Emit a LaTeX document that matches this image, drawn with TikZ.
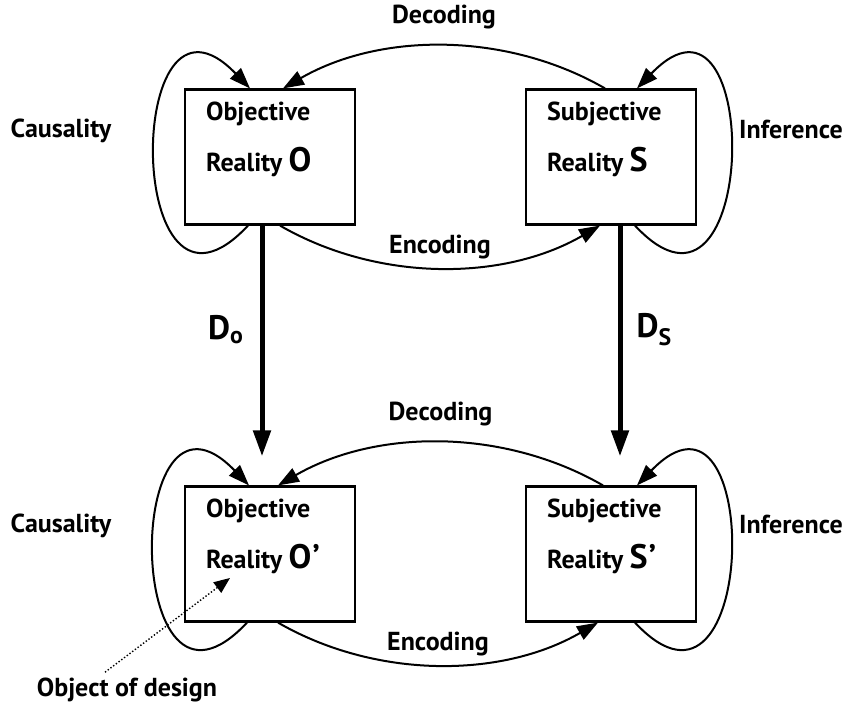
\documentclass[tikz,border=0pt]{standalone}
\usepackage{fontspec}
\setmainfont{PT Sans}
\usetikzlibrary{arrows.meta}

\begin{document}
\begin{tikzpicture}[x=1pt,y=1pt,
	>={Triangle[length=21pt,width=15pt]},
	font=\fontsize{26}{30}\selectfont\bfseries,
	box/.style={draw,line width=2.2pt,minimum width=170pt,minimum height=135pt,inner sep=0pt},
	lbl/.style={inner sep=0pt},
	arc/.style={->,line width=2pt},
	design/.style={-{Triangle[length=26pt,width=17pt]},line width=5pt}]
	\useasboundingbox (0,0) rectangle (846,704);
	% the four realities
	\node[box] at (270,547) (O) {};
	\node[box] at (611,547) (S) {};
	\node[box] at (270,150) (Op) {};
	\node[box] at (611,150) (Sp) {};
	\node[lbl,anchor=base west] at ([shift={(22,-32)}]O.north west) {Objective};
	\node[lbl,anchor=base west] at ([shift={(22,-83)}]O.north west) {Reality {\fontsize{34}{34}\selectfont O}};
	\node[lbl,anchor=base west] at ([shift={(22,-32)}]S.north west) {Subjective};
	\node[lbl,anchor=base west] at ([shift={(22,-83)}]S.north west) {Reality {\fontsize{34}{34}\selectfont S}};
	\node[lbl,anchor=base west] at ([shift={(22,-32)}]Op.north west) {Objective};
	\node[lbl,anchor=base west] at ([shift={(22,-83)}]Op.north west) {Reality {\fontsize{34}{34}\selectfont O\kern1pt\char"2019}};
	\node[lbl,anchor=base west] at ([shift={(22,-32)}]Sp.north west) {Subjective};
	\node[lbl,anchor=base west] at ([shift={(22,-83)}]Sp.north west) {Reality {\fontsize{34}{34}\selectfont S\kern1pt\char"2019}};
	% side labels
	\node[lbl,anchor=base] at (61,566) (c1) {Causality};
	\node[lbl,anchor=base] at (61,171) (c2) {Causality};
	\node[lbl,anchor=base] at (791,565) (i1) {Inference};
	\node[lbl,anchor=base] at (791,170) (i2) {Inference};
	% top pair
	\draw[arc] ([xshift=-6]S.north) to [out=150,in=30,looseness=0.9] node[lbl,above=16pt]{Decoding} ([xshift=13]O.north);
	\draw[arc] ([xshift=10]O.south) to [out=-30,in=-150,looseness=0.9] node[lbl,above=8pt]{Encoding} ([xshift=-11]S.south);
	\draw[arc] ([xshift=-22]O.south) to [out=227,in=134,looseness=3.4] ([xshift=-20]O.north);
	\draw[arc] ([xshift=24]S.south) to [out=-47,in=46,looseness=3.4] ([xshift=26]S.north);
	% bottom pair
	\draw[arc] ([xshift=-8]Sp.north) to [out=150,in=30,looseness=0.9] node[lbl,above=16pt]{Decoding} ([xshift=8]Op.north);
	\draw[arc] ([xshift=8]Op.south) to [out=-30,in=-150,looseness=0.9] node[lbl,above=8pt]{Encoding} ([xshift=-13]Sp.south);
	\draw[arc] ([xshift=-23]Op.south) to [out=227,in=134,looseness=3.4] ([xshift=-21]Op.north);
	\draw[arc] ([xshift=24]Sp.south) to [out=-47,in=46,looseness=3.4] ([xshift=26]Sp.north);
	% design steps
	\draw[design] ([xshift=-8]O.south) -- ([xshift=-8,yshift=29]Op.north) node[lbl,pos=0.45,left=16pt,font=\fontsize{34}{34}\selectfont\bfseries]{D\textsubscript{o}};
	\draw[design] ([xshift=9]S.south) -- ([xshift=9,yshift=29]Sp.north) node[lbl,pos=0.45,right=14pt,font=\fontsize{34}{34}\selectfont\bfseries]{D\textsubscript{S}};
	% object of design
	\node[lbl,anchor=base] at (127,7) (des) {Object of design};
	\coordinate (tip) at ([shift={(-40,-24)}]Op.center);
	\draw[->,line width=1.4pt,dash pattern=on 1.4pt off 2pt,>={Triangle[length=16pt,width=13pt]}] ([shift={(-22,6)}]des.north) -- (tip);
\end{tikzpicture}
\end{document}
